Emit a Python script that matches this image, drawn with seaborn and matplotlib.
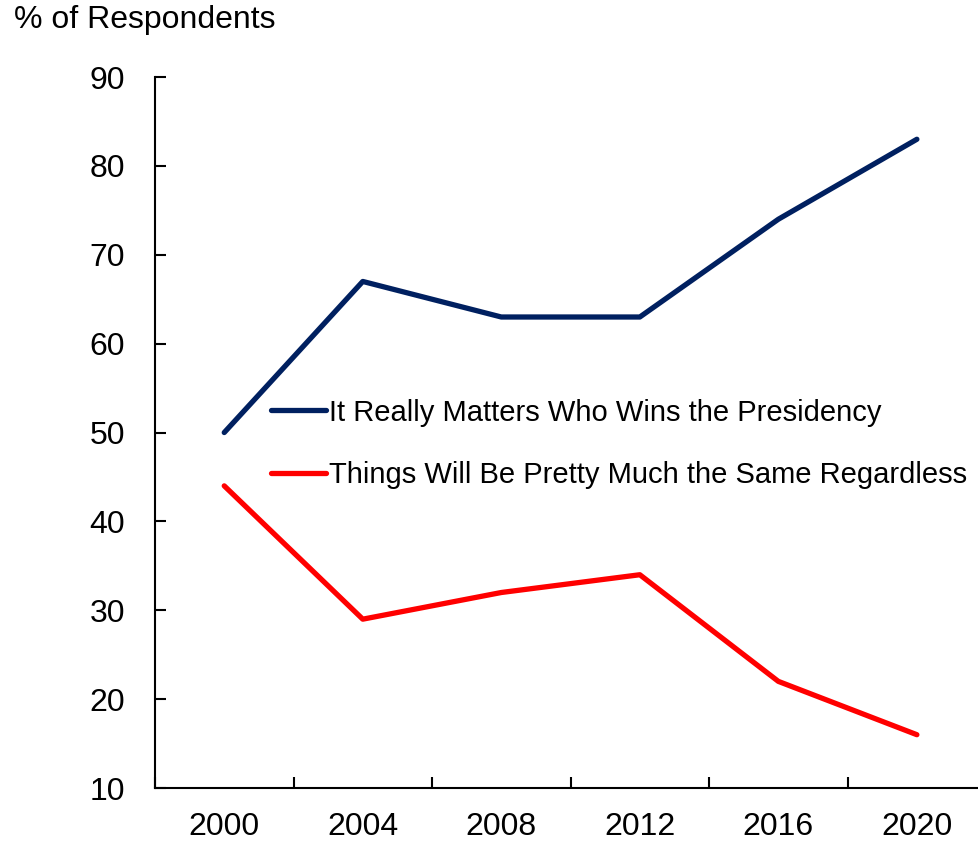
import pandas as pd
import numpy as np
import seaborn as sns
import matplotlib.pyplot as plt

years = ["2000", "2004", "2008", "2012", "2016", "2020"]
matters = [50, 67, 63, 63, 74, 83]
same = [44, 29, 32, 34, 22, 16]
names = ["It Really Matters Who Wins the Presidency",
         "Things Will Be Pretty Much the Same Regardless"]

df = pd.DataFrame({
    "pos": list(range(len(years))) * 2,
    "value": matters + same,
    "series": [names[0]] * len(years) + [names[1]] * len(years),
})

sns.set_theme(style="white", rc={"text.color": "black", "xtick.color": "black",
                                 "ytick.color": "black", "axes.labelcolor": "black",
                                 "xtick.bottom": True, "ytick.left": True})
plt.rcParams['font.family'] = ['Liberation Sans', 'DejaVu Sans']

fig = plt.figure(figsize=(9.79, 8.42), dpi=100)
ax = fig.add_axes([0.1583, 0.0641, 0.849, 0.8444])

sns.lineplot(data=df, x="pos", y="value", hue="series",
             palette=["#002060", "#FF0000"], linewidth=3.8, ax=ax)

ax.set_xlim(-0.5, 5.5)
ax.set_ylim(10, 90)
ax.set_yticks(range(10, 91, 10))
ax.set_yticklabels([str(v) for v in range(10, 91, 10)], fontsize=23)

# category labels centred, tick marks between categories
ax.set_xticks(np.arange(-0.5, 5.6, 1.0))
ax.set_xticklabels([""] * 7)
ax.set_xticks(range(len(years)), minor=True)
ax.set_xticklabels(years, minor=True, fontsize=23)
ax.tick_params(axis="x", which="minor", length=0, pad=17.5)
ax.tick_params(axis="x", which="major", direction="in", length=8, width=1.5,
               bottom=True, colors="black")
ax.tick_params(axis="y", which="major", direction="in", length=8, width=1.5, pad=21.5,
               left=True, colors="black")

for s in ["top", "right"]:
    ax.spines[s].set_visible(False)
for s in ["left", "bottom"]:
    ax.spines[s].set_color("black")
    ax.spines[s].set_linewidth(1.5)

ax.set_xlabel("")
ax.set_ylabel("")

leg = ax.legend(loc="upper left", bbox_to_anchor=(0.125, 0.564), frameon=False,
                fontsize=21, handlelength=1.9, handletextpad=0.1, labelspacing=1.17,
                borderaxespad=0)
for h in leg.get_lines():
    h.set_linewidth(3.8)

fig.text(0.014, 0.9667, "% of Respondents", fontsize=23, va="baseline", ha="left")

fig.savefig("out.png", dpi=100)
